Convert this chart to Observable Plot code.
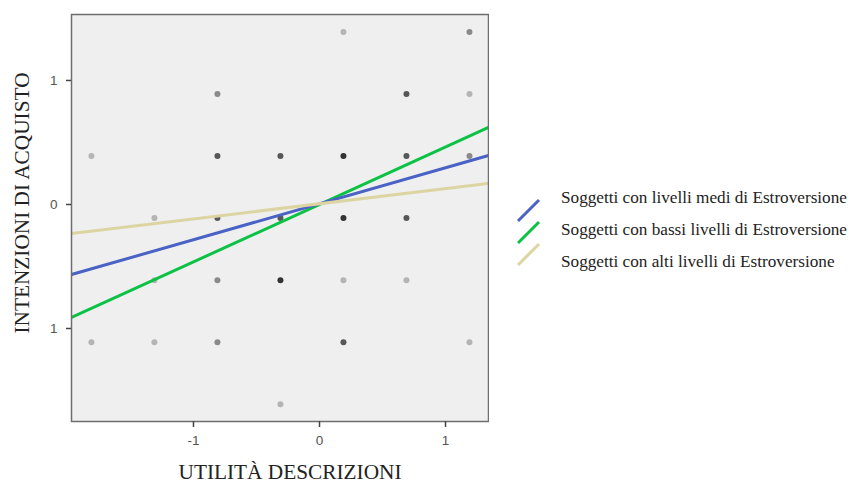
<!DOCTYPE html>
<html>
<head>
<meta charset="utf-8">
<script src="https://cdn.jsdelivr.net/npm/d3@7"></script>
<script src="https://cdn.jsdelivr.net/npm/@observablehq/plot@0.6"></script>
<style>
  html, body { margin: 0; padding: 0; background: #fff; }
  #wrap { position: relative; width: 850px; height: 489px; overflow: hidden; }
  #chart { position: absolute; left: 0; top: 0; }
  #legend { position: absolute; left: 510px; top: 180px; }
</style>
</head>
<body>
<div id="wrap"><div id="chart"></div><svg id="legend" width="340" height="100"></svg></div>
<script>
// Scatter points (jittered grid positions) and how many overlap at each spot
const pointX = [0.19, 1.19,
                -0.81, 0.69, 1.19,
                -1.81, -0.81, -0.31, 0.19, 0.69, 1.19,
                -1.31, -0.81, -0.31, 0.19, 0.69,
                -1.31, -0.81, -0.31, 0.19, 0.69,
                -1.81, -1.31, -0.81, 0.19, 1.19,
                -0.31];
const pointY = [1.39, 1.39,
                0.89, 0.89, 0.89,
                0.39, 0.39, 0.39, 0.39, 0.39, 0.39,
                -0.11, -0.11, -0.11, -0.11, -0.11,
                -0.61, -0.61, -0.61, -0.61, -0.61,
                -1.11, -1.11, -1.11, -1.11, -1.11,
                -1.61];
const pointCount = [1, 2,
                    2, 3, 1,
                    1, 3, 3, 4, 3, 2,
                    1, 3, 3, 4, 3,
                    1, 2, 4, 1, 1,
                    1, 1, 2, 3, 1,
                    1];

// Regression lines (endpoints at the frame edges)
const seriesNames = ["Soggetti con livelli medi di Estroversione",
                     "Soggetti con bassi livelli di Estroversione",
                     "Soggetti con alti livelli di Estroversione"];
const seriesColors = ["#4a62c6", "#0cc245", "#dcd5a2"];
const lineX = [-1.968, 1.341];
const lineYMedi = [-0.565, 0.395];
const lineYBassi = [-0.911, 0.621];
const lineYAlti = [-0.234, 0.169];

const yTicks = [1, 0, -1];
const yTickLabels = ["1", "0", "1"];
const xTicks = [-1, 0, 1];
const xTickLabels = ["-1", "0", "1"];

const points = pointX.map((x, i) => ({x, y: pointY[i], n: pointCount[i]}));
const lineYs = [lineYMedi, lineYBassi, lineYAlti];
const lines = [];
seriesNames.forEach((s, k) => lineX.forEach((x, i) => lines.push({series: s, x, y: lineYs[k][i]})));
const drawOrder = [1, 0, 2];

const plot = Plot.plot({
  width: 489,
  height: 489,
  marginLeft: 71,
  marginRight: 1,
  marginTop: 14,
  marginBottom: 68,
  x: {domain: [-1.968, 1.341]},
  y: {domain: [-1.75, 1.532]},
  color: {type: "ordinal", domain: [1, 2, 3, 4], range: ["#b4b4b4", "#8a8a8a", "#575757", "#333333"]},
  style: {fontFamily: "'Liberation Sans', Arial, sans-serif"},
  marks: [
    Plot.frame({fill: "#efefef", stroke: "none"}),
    Plot.dot(points, {x: "x", y: "y", fill: "n", r: 3, stroke: "none"}),
    ...drawOrder.map(k => Plot.line(lines.filter(d => d.series === seriesNames[k]),
      {x: "x", y: "y", stroke: seriesColors[k], strokeWidth: 3, clip: true})),
    Plot.frame({stroke: "#6e6e6e", strokeWidth: 1.5}),
    Plot.axisX({ticks: xTicks, tickFormat: (d) => xTickLabels[xTicks.indexOf(d)], tickSize: 6, tickPadding: 8,
      label: null, fontSize: 13.5, color: "#555", stroke: "#444", strokeWidth: 1.5}),
    Plot.axisY({ticks: yTicks, tickFormat: (d) => yTickLabels[yTicks.indexOf(d)], tickSize: 5, tickPadding: 9,
      label: null, fontSize: 13.5, color: "#555", stroke: "#444", strokeWidth: 1.5}),
    Plot.text(["UTILITÀ DESCRIZIONI"], {frameAnchor: "bottom", dy: 57, dx: 10, fontSize: 21.3,
      fontFamily: "'Liberation Serif', 'Times New Roman', serif", fill: "#222"}),
    Plot.text(["INTENZIONI DI ACQUISTO"], {frameAnchor: "left", rotate: -90, textAnchor: "middle",
      dx: -49, dy: -15, fontSize: 21.3, fontFamily: "'Liberation Serif', 'Times New Roman', serif", fill: "#222"})
  ]
});
document.getElementById("chart").appendChild(plot);

// Legend
const leg = d3.select("#legend");
seriesNames.forEach((name, i) => {
  leg.append("line")
    .attr("x1", 8).attr("y1", 41 + 22 * i)
    .attr("x2", 29).attr("y2", 20 + 22 * i)
    .attr("stroke", seriesColors[i]).attr("stroke-width", 3);
  leg.append("text")
    .attr("x", 51).attr("y", 19 + 32 * i)
    .attr("dominant-baseline", "middle")
    .attr("font-family", "'Liberation Serif', 'Times New Roman', serif")
    .attr("font-size", 17.2).attr("fill", "#222")
    .text(name);
});
</script>
</body>
</html>
